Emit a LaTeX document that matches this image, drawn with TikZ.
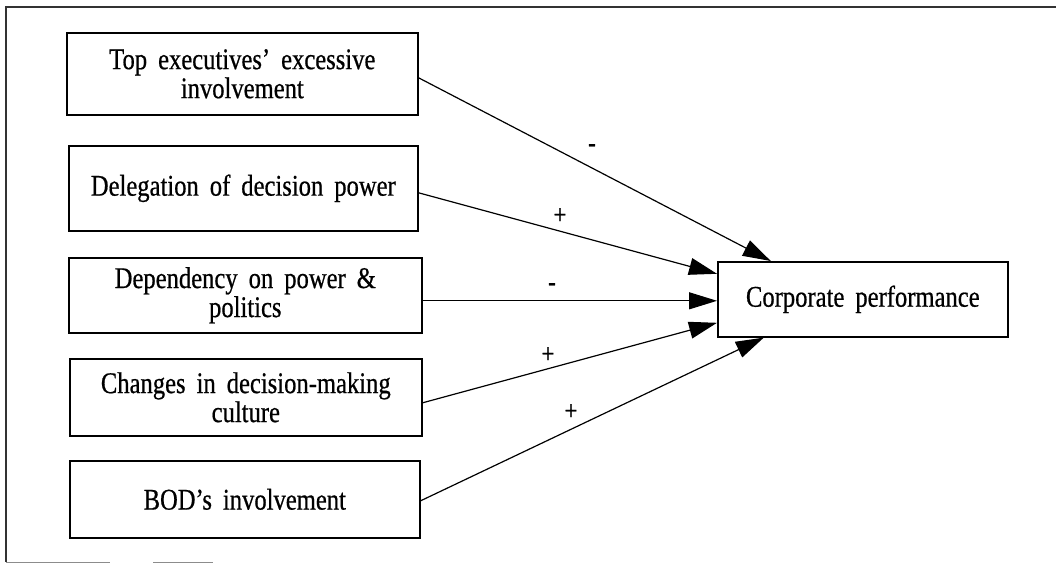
\documentclass[tikz,border=0pt]{standalone}
\usepackage{fontspec}
\setmainfont{Liberation Serif}[FakeStretch=0.82,FakeBold=0.6]
\usetikzlibrary{arrows.meta,calc}
\newcommand\boxfnt{\fontsize{30}{29}\selectfont\spaceskip=11pt plus 4pt minus 2pt\relax}
\newcommand\signfnt{\fontsize{28}{28}\selectfont}
\begin{document}
\begin{tikzpicture}[x=1pt,y=-1pt,
  box/.style={draw, line width=1.6pt, inner sep=0pt, align=center, font=\boxfnt, anchor=north west},
  conn/.style={line width=1.2pt, -{Triangle[length=28pt,width=17pt]}},
  sign/.style={font=\signfnt, inner sep=0pt},
  frame/.style={line width=1.2pt, black!80}]
\useasboundingbox (0,0) rectangle (1056,563);
% frame
\draw[frame] (1056,7) -- (6,7) -- (6,562);
\draw[line width=0.8pt, black!45] (6,562) -- (110,562) (153,562) -- (213,562);
% boxes
\node[box, minimum width=351pt, minimum height=82pt] (b1) at (66,32) {Top executives' excessive\\involvement};
\node[box, minimum width=349pt, minimum height=85pt] (b2) at (68,145) {Delegation of decision power};
\node[box, minimum width=353pt, minimum height=75pt] (b3) at (68,257) {Dependency on power \&\\politics};
\node[box, minimum width=352pt, minimum height=77pt] (b4) at (69,358) {Changes in decision-making\\culture};
\node[box, minimum width=350pt, minimum height=77pt] (b5) at (69,460) {BOD's involvement};
\node[box, minimum width=290pt, minimum height=75pt] (corp) at (717,261) {Corporate performance};
% connectors
\draw[conn] ([yshift=-4pt]b1.east) -- ([xshift=-92pt]corp.north);
\draw[conn] ([yshift=-4.5pt]b2.east) -- ([yshift=25.5pt]corp.west);
\draw[conn] ([yshift=-5.5pt]b3.east) -- ([yshift=-1.5pt]corp.west);
\draw[conn] ([yshift=-5.5pt]b4.east) -- ([yshift=-23.5pt]corp.west);
\draw[conn] ([yshift=-1.5pt]b5.east) -- ([xshift=-99pt]corp.south);
% signs
\node[sign] (s1) at (592,148) {-};
\node[sign] (s2) at (560,216) {+};
\node[sign] (s3) at (552,287) {-};
\node[sign] (s4) at (548,355) {+};
\node[sign] (s5) at (571,412) {+};
\end{tikzpicture}
\end{document}
